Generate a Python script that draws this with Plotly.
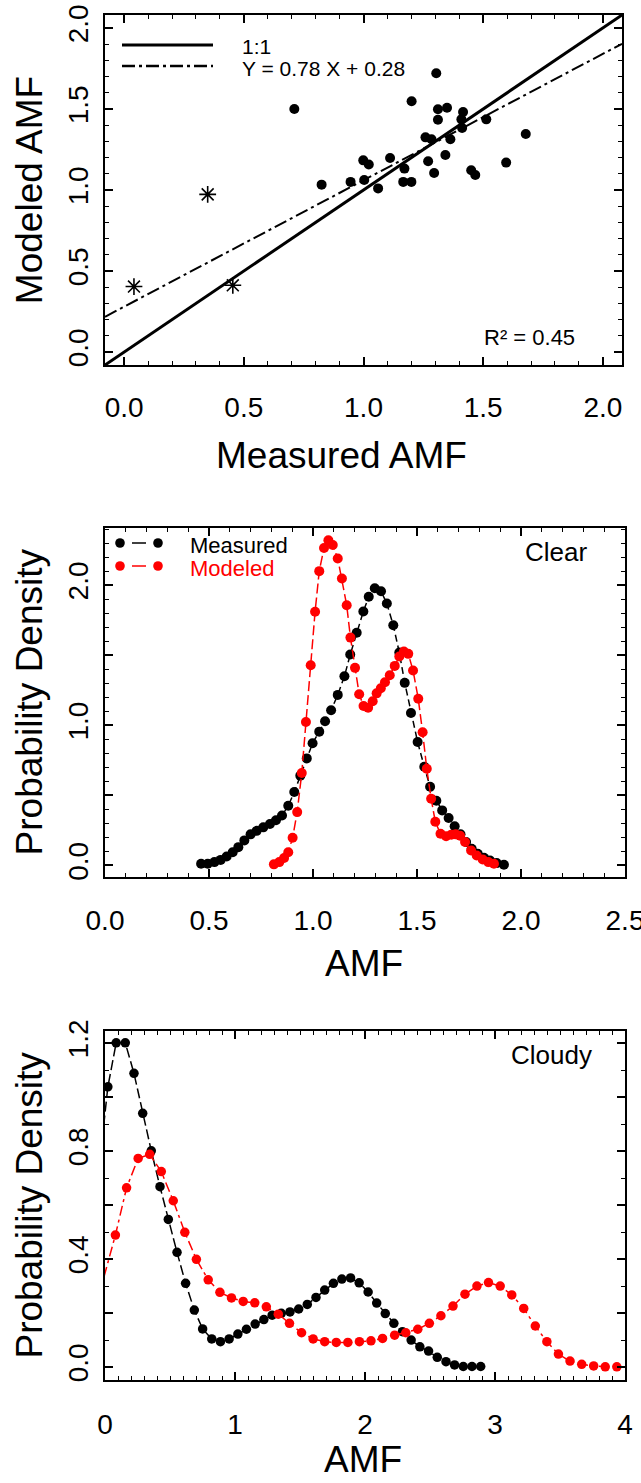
import numpy as np
import plotly.graph_objects as go

# ---------------- data ----------------
# Panel 1: measured vs modeled AMF
meas_dots = [0.711, 0.825, 0.946, 0.999, 1.022, 1.003, 1.061, 1.111, 1.171, 1.166,
             1.200, 1.201, 1.270, 1.259, 1.284, 1.295, 1.304, 1.311, 1.311, 1.349,
             1.363, 1.342, 1.416, 1.409, 1.412, 1.450, 1.467, 1.513, 1.596, 1.678]
mod_dots = [1.500, 1.033, 1.050, 1.183, 1.157, 1.062, 1.010, 1.198, 1.132, 1.050,
            1.050, 1.548, 1.177, 1.325, 1.313, 1.105, 1.720, 1.498, 1.434, 1.508,
            1.313, 1.216, 1.481, 1.436, 1.383, 1.122, 1.093, 1.436, 1.169, 1.346]
meas_stars = [0.041, 0.349, 0.454]
mod_stars = [0.404, 0.973, 0.412]
fit_slope = 0.78
fit_intercept = 0.28
r2_value = 0.45

# Panel 2: clear-sky PDFs
clear_meas_x = [0.462, 0.494, 0.526, 0.556, 0.585, 0.614, 0.641, 0.670, 0.700, 0.729,
                0.761, 0.793, 0.822, 0.851, 0.881, 0.910, 0.939, 0.970, 0.998, 1.030,
                1.058, 1.087, 1.119, 1.151, 1.179, 1.210, 1.242, 1.268, 1.297, 1.327,
                1.355, 1.386, 1.415, 1.441, 1.471, 1.503, 1.535, 1.563, 1.593, 1.621,
                1.652, 1.681, 1.709, 1.736, 1.763, 1.792, 1.822, 1.851, 1.883, 1.918]
clear_meas_y = [0.012, 0.012, 0.024, 0.040, 0.064, 0.095, 0.131, 0.179, 0.222, 0.247,
                0.272, 0.296, 0.323, 0.357, 0.426, 0.524, 0.641, 0.764, 0.872, 0.955,
                1.029, 1.107, 1.217, 1.350, 1.505, 1.660, 1.812, 1.917, 1.978, 1.957,
                1.869, 1.714, 1.519, 1.303, 1.088, 0.881, 0.704, 0.562, 0.462, 0.393,
                0.339, 0.280, 0.223, 0.167, 0.119, 0.083, 0.055, 0.036, 0.017, 0.005]
clear_mod_x = [0.812, 0.838, 0.861, 0.881, 0.902, 0.924, 0.946, 0.966, 0.989, 1.010,
               1.030, 1.053, 1.074, 1.095, 1.119, 1.139, 1.162, 1.180, 1.202, 1.222,
               1.243, 1.265, 1.287, 1.306, 1.326, 1.346, 1.369, 1.393, 1.415, 1.437,
               1.458, 1.481, 1.506, 1.527, 1.547, 1.568, 1.588, 1.613, 1.640, 1.665,
               1.686, 1.707, 1.731, 1.760, 1.787, 1.816, 1.843, 1.870]
clear_mod_y = [0.008, 0.024, 0.053, 0.095, 0.198, 0.381, 0.660, 1.024, 1.429, 1.810,
               2.100, 2.265, 2.320, 2.286, 2.190, 2.047, 1.857, 1.626, 1.410, 1.222,
               1.138, 1.126, 1.172, 1.228, 1.264, 1.307, 1.357, 1.424, 1.491, 1.527,
               1.510, 1.391, 1.190, 0.950, 0.690, 0.476, 0.312, 0.226, 0.208, 0.220,
               0.222, 0.212, 0.167, 0.107, 0.071, 0.043, 0.024, 0.012]

# Panel 3: cloudy PDFs
cloudy_meas_x = [-0.045, 0.022, 0.086, 0.156, 0.223, 0.290, 0.356, 0.423, 0.487, 0.554,
                 0.620, 0.687, 0.751, 0.821, 0.888, 0.955, 1.022, 1.088, 1.155, 1.222,
                 1.286, 1.356, 1.423, 1.490, 1.556, 1.623, 1.690, 1.757, 1.822, 1.889,
                 1.955, 2.024, 2.090, 2.156, 2.222, 2.288, 2.355, 2.422, 2.489, 2.556,
                 2.623, 2.689, 2.756, 2.823, 2.890]
cloudy_meas_y = [0.740, 1.038, 1.201, 1.201, 1.088, 0.940, 0.801, 0.668, 0.547, 0.425,
                 0.310, 0.211, 0.141, 0.104, 0.094, 0.104, 0.122, 0.140, 0.159, 0.176,
                 0.192, 0.199, 0.204, 0.215, 0.232, 0.258, 0.285, 0.310, 0.326, 0.330,
                 0.312, 0.278, 0.237, 0.198, 0.162, 0.131, 0.100, 0.075, 0.059, 0.036,
                 0.020, 0.008, 0.002, 0.002, 0.002]
cloudy_mod_x = [-0.050, 0.080, 0.166, 0.255, 0.344, 0.433, 0.525, 0.614, 0.703, 0.794,
                0.884, 0.973, 1.063, 1.152, 1.241, 1.333, 1.419, 1.512, 1.601, 1.690,
                1.779, 1.868, 1.957, 2.046, 2.135, 2.228, 2.314, 2.406, 2.495, 2.584,
                2.677, 2.769, 2.861, 2.950, 3.040, 3.129, 3.221, 3.310, 3.399, 3.488,
                3.577, 3.667, 3.759, 3.848, 3.937]
cloudy_mod_y = [0.260, 0.489, 0.664, 0.773, 0.788, 0.724, 0.616, 0.499, 0.399, 0.323,
                0.277, 0.256, 0.243, 0.238, 0.223, 0.196, 0.162, 0.127, 0.104, 0.094,
                0.091, 0.091, 0.094, 0.097, 0.106, 0.118, 0.127, 0.140, 0.162, 0.190,
                0.226, 0.270, 0.300, 0.313, 0.300, 0.267, 0.217, 0.152, 0.094, 0.048,
                0.022, 0.010, 0.004, 0.001, 0.001]

# ---------------- layout helpers ----------------
W, H = 641, 1483
FONT = "Liberation Sans, Arial, sans-serif"
RED = "#ff0000"


def px(x):
    return x / W


def py(y):
    return 1 - y / H


fig = go.Figure()

# Panel 1 traces
x1_range = [-0.08, 2.08]
xl = np.array(x1_range)
fig.add_trace(go.Scatter(x=xl, y=xl, mode="lines", line=dict(color="black", width=3),
                         xaxis="x", yaxis="y", hoverinfo="skip"))
fig.add_trace(go.Scatter(x=xl, y=fit_slope * xl + fit_intercept, mode="lines",
                         line=dict(color="black", width=2, dash="13px,4px,3px,4px"),
                         xaxis="x", yaxis="y", hoverinfo="skip"))
fig.add_trace(go.Scatter(x=meas_dots, y=mod_dots, mode="markers",
                         marker=dict(color="black", size=10, symbol="circle"),
                         xaxis="x", yaxis="y"))
fig.add_trace(go.Scatter(x=meas_stars, y=mod_stars, mode="markers",
                         marker=dict(color="black", size=14, symbol="asterisk-open",
                                     line=dict(color="black", width=1.6)),
                         xaxis="x", yaxis="y"))

# Panel 2 traces
fig.add_trace(go.Scatter(x=clear_meas_x, y=clear_meas_y, mode="lines+markers",
                         line=dict(color="black", width=1.5, dash="7px,4px"),
                         marker=dict(color="black", size=10),
                         xaxis="x2", yaxis="y2"))
fig.add_trace(go.Scatter(x=clear_mod_x, y=clear_mod_y, mode="lines+markers",
                         line=dict(color=RED, width=1.5, dash="10px,4px"),
                         marker=dict(color=RED, size=10),
                         xaxis="x2", yaxis="y2"))

# Panel 3 traces
fig.add_trace(go.Scatter(x=cloudy_meas_x, y=cloudy_meas_y, mode="lines+markers",
                         line=dict(color="black", width=1.5, dash="10px,4px"),
                         marker=dict(color="black", size=9.5),
                         xaxis="x3", yaxis="y3"))
fig.add_trace(go.Scatter(x=cloudy_mod_x, y=cloudy_mod_y, mode="lines+markers",
                         line=dict(color=RED, width=1.5, dash="10px,4px,3px,4px"),
                         marker=dict(color=RED, size=9.5),
                         xaxis="x3", yaxis="y3"))

tickfont = dict(family=FONT, size=28, color="black")
titlefont = dict(family=FONT, size=37, color="black")


def axis_common(**kw):
    d = dict(showline=True, linewidth=2, linecolor="black", mirror="allticks",
             ticks="inside", ticklen=8, tickwidth=1.5, tickcolor="black",
             showgrid=False, zeroline=False, tickfont=tickfont, fixedrange=True,
             automargin=False, ticklabeloverflow="allow")
    d.update(kw)
    return d


minor01 = dict(dtick=0.1, ticks="inside", ticklen=4, tickwidth=1.2, tickcolor="black",
               showgrid=False)

dom_x1 = [px(105), px(622)]
dom_x = [px(105), px(625)]

fig.update_layout(
    width=W, height=H, margin=dict(l=0, r=0, t=0, b=0, autoexpand=False),
    paper_bgcolor="white", plot_bgcolor="white", showlegend=False,
    font=dict(family=FONT, color="black"),
    xaxis=axis_common(domain=dom_x1, range=x1_range, anchor="y", tick0=0, dtick=0.5,
                      tickformat=".1f", minor=dict(minor01, tick0=0),
                      ticklabelstandoff=16),
    yaxis=axis_common(domain=[py(365), py(15)], range=[-0.08, 2.08], anchor="x",
                      tick0=0, dtick=0.5, tickformat=".1f", tickangle=-90,
                      minor=dict(minor01, tick0=0), ticklabelstandoff=4,
                      title=dict(text="Modeled AMF", font=titlefont, standoff=9)),
    xaxis2=axis_common(domain=dom_x, range=[0, 2.5], anchor="y2", tick0=0, dtick=0.5,
                       tickformat=".1f", minor=dict(minor01, tick0=0),
                       ticklabelstandoff=18),
    yaxis2=axis_common(domain=[py(876.7), py(527.7)], range=[-0.08, 2.41], anchor="x2",
                       tickvals=[0, 0.5, 1.0, 1.5, 2.0],
                       ticktext=["0.0", "", "1.0", "", "2.0"], tickangle=-90,
                       minor=dict(minor01, tick0=0), ticklabelstandoff=4,
                       title=dict(text="Probability Density", font=titlefont, standoff=9)),
    xaxis3=axis_common(domain=dom_x, range=[0, 4], anchor="y3", tick0=0, dtick=1,
                       tickformat="d", minor=dict(minor01, tick0=0),
                       ticklabelstandoff=18),
    yaxis3=axis_common(domain=[py(1380), py(1030.7)], range=[-0.048, 1.246], anchor="x3",
                       tickvals=[0, 0.2, 0.4, 0.6, 0.8, 1.0, 1.2],
                       ticktext=["0.0", "", "0.4", "", "0.8", "", "1.2"], tickangle=-90,
                       minor=dict(minor01, tick0=0), ticklabelstandoff=4,
                       title=dict(text="Probability Density", font=titlefont, standoff=9)),
)

# ---------------- legends / labels ----------------
shapes = []
annots = []

# x-axis titles
for text, cx, cy, anchor in [("Measured AMF", 341, 455, "middle"),
                             ("AMF", 364, 963, "middle"),
                             ("AMF", 363, 1482, "bottom")]:
    annots.append(dict(text=text, x=px(cx), y=py(cy), xref="paper", yref="paper",
                       xanchor="center", yanchor=anchor, showarrow=False,
                       font=titlefont))

# Panel 1 legend
shapes.append(dict(type="line", xref="paper", yref="paper", x0=px(122), x1=px(213),
                   y0=py(45), y1=py(45), line=dict(color="black", width=3)))
shapes.append(dict(type="line", xref="paper", yref="paper", x0=px(122), x1=px(213),
                   y0=py(66), y1=py(66),
                   line=dict(color="black", width=2.5, dash="13px,4px,3px,4px")))
annots.append(dict(text="1:1", x=px(240), y=py(47), xref="paper", yref="paper",
                   xanchor="left", yanchor="middle", showarrow=False,
                   font=dict(family=FONT, size=21, color="black")))
annots.append(dict(text="Y = 0.78 X + 0.28", x=px(240), y=py(68), xref="paper",
                   yref="paper", xanchor="left", yanchor="middle", showarrow=False,
                   font=dict(family=FONT, size=21, color="black")))
annots.append(dict(text="R² = 0.45", x=px(529), y=py(337), xref="paper", yref="paper",
                   xanchor="center", yanchor="middle", showarrow=False,
                   font=dict(family=FONT, size=22, color="black")))

# Panel 2 legend
for yy, col, label in [(543, "black", "Measured"), (566, RED, "Modeled")]:
    for xx in (120, 158):
        shapes.append(dict(type="circle", xref="paper", yref="paper",
                           xsizemode="pixel", ysizemode="pixel",
                           xanchor=px(xx), yanchor=py(yy), x0=-4.8, x1=4.8,
                           y0=-4.8, y1=4.8, fillcolor=col, line=dict(color=col, width=0)))
    shapes.append(dict(type="line", xref="paper", yref="paper", x0=px(132), x1=px(146),
                       y0=py(yy), y1=py(yy), line=dict(color=col, width=1.5)))
    annots.append(dict(text=label, x=px(188), y=py(yy + 2), xref="paper", yref="paper",
                       xanchor="left", yanchor="middle", showarrow=False,
                       font=dict(family=FONT, size=22, color=col)))

annots.append(dict(text="Clear", x=px(589), y=py(552), xref="paper", yref="paper",
                   xanchor="right", yanchor="middle", showarrow=False,
                   font=dict(family=FONT, size=26, color="black")))
annots.append(dict(text="Cloudy", x=px(594), y=py(1055), xref="paper", yref="paper",
                   xanchor="right", yanchor="middle", showarrow=False,
                   font=dict(family=FONT, size=26, color="black")))

fig.update_layout(shapes=shapes, annotations=annots)

fig.write_html("out.html", config={"displayModeBar": False},
               post_script="document.body.style.margin='0';"
                           "document.body.style.overflow='hidden';")
